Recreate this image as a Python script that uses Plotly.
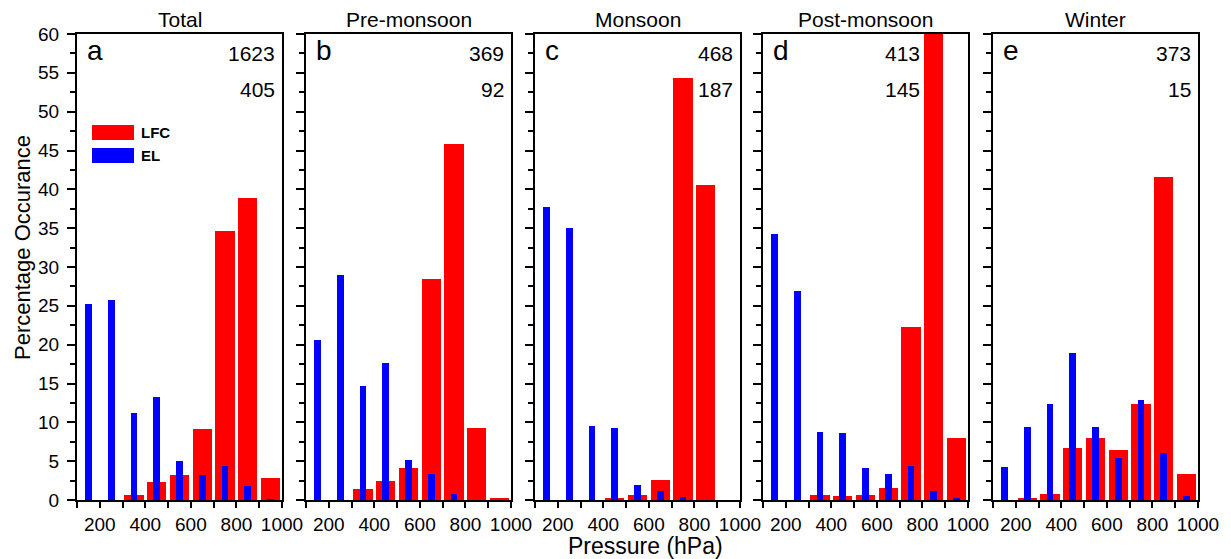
import plotly.graph_objects as go

# Data
pressure_bins = [150, 250, 350, 450, 550, 650, 750, 850, 950]
panel_titles = ["Total", "Pre-monsoon", "Monsoon", "Post-monsoon", "Winter"]
panel_letters = ["a", "b", "c", "d", "e"]
count_top = ["1623", "369", "468", "413", "373"]
count_bottom = ["405", "92", "187", "145", "15"]

lfc_total = [0, 0, 0.7, 2.3, 3.2, 9.1, 34.6, 38.9, 2.8]
el_total = [25.3, 25.8, 11.2, 13.2, 5.0, 3.2, 4.4, 1.8, 0.1]
lfc_pre = [0, 0, 1.4, 2.5, 4.1, 28.5, 45.9, 9.3, 0.3]
el_pre = [20.6, 29.0, 14.7, 17.6, 5.2, 3.3, 0.8, 0, 0]
lfc_mon = [0, 0, 0, 0.3, 0.7, 2.6, 54.3, 40.6, 0]
el_mon = [37.7, 35.0, 9.5, 9.3, 1.9, 1.2, 0.4, 0, 0]
lfc_post = [0, 0, 0.7, 0.5, 0.7, 1.5, 22.3, 63.0, 8.0]
el_post = [34.2, 26.9, 8.8, 8.6, 4.1, 3.4, 4.4, 1.2, 0.2]
lfc_win = [0, 0.3, 0.8, 6.7, 8.0, 6.5, 12.4, 41.6, 3.3]
el_win = [4.3, 9.4, 12.4, 18.9, 9.4, 5.4, 12.9, 6.1, 0.5]

lfc_all = [lfc_total, lfc_pre, lfc_mon, lfc_post, lfc_win]
el_all = [el_total, el_pre, el_mon, el_post, el_win]

# page body has an 8px margin; figure fills the rest of the window
OFF = 8
W, H = 1223, 551


def px(sx):
    return (sx - OFF) / W


def py(sy):
    return 1 - (sy - OFF) / H


lefts = [77, 306, 535, 763, 993]
pw = 205
ybot, ytop = 500, 34

fig = go.Figure()
FONT = "Liberation Sans, Arial, sans-serif"

for i in range(5):
    xa = "x" if i == 0 else f"x{i+1}"
    ya = "y" if i == 0 else f"y{i+1}"
    fig.add_trace(go.Bar(x=pressure_bins, y=lfc_all[i], width=84,
                         marker=dict(color="#ff0000", line=dict(width=0)),
                         xaxis=xa, yaxis=ya, showlegend=False, name="LFC"))
    fig.add_trace(go.Bar(x=pressure_bins, y=el_all[i], width=30,
                         marker=dict(color="#0000ff", line=dict(width=0)),
                         xaxis=xa, yaxis=ya, showlegend=False, name="EL"))
    xkey = "xaxis" if i == 0 else f"xaxis{i+1}"
    ykey = "yaxis" if i == 0 else f"yaxis{i+1}"
    fig.layout[xkey] = dict(
        domain=[px(lefts[i]), px(lefts[i] + pw)], anchor=ya,
        range=[100, 1000], tickvals=[200, 400, 600, 800, 1000],
        ticks="outside", ticklen=6, tickwidth=1.5, tickcolor="black",
        minor=dict(tickvals=[100, 300, 500, 700, 900], ticks="outside", ticklen=6,
                   tickwidth=1.5, tickcolor="black"),
        showline=True, linecolor="black", linewidth=2, mirror=True,
        showgrid=False, zeroline=False, automargin=False,
        tickfont=dict(size=19, color="black", family=FONT),
    )
    fig.layout[ykey] = dict(
        domain=[py(ybot), py(ytop)], anchor=xa, range=[0, 60], dtick=5,
        ticks="outside", ticklen=8, tickwidth=1.5, tickcolor="black",
        minor=dict(dtick=2.5, ticks="outside", ticklen=5, tickwidth=1.5, tickcolor="black"),
        showline=True, linecolor="black", linewidth=2, mirror=True,
        showgrid=False, zeroline=False, showticklabels=(i == 0), automargin=False,
        ticklabelstandoff=4,
        tickfont=dict(size=19, color="black", family=FONT),
    )
    cx = lefts[i] + pw / 2
    fig.add_annotation(text=panel_titles[i], xref="paper", yref="paper",
                       x=px(cx), y=py(19.5), xanchor="center", yanchor="middle", showarrow=False,
                       font=dict(size=21, color="black", family=FONT))
    fig.add_annotation(text=panel_letters[i], xref="paper", yref="paper",
                       x=px(lefts[i] + 8), y=py(51), xanchor="left", yanchor="middle", showarrow=False,
                       font=dict(size=28, color="black", family=FONT))
    rx = 922 if i == 3 else lefts[i] + pw - 5
    fig.add_annotation(text=count_top[i], xref="paper", yref="paper",
                       x=px(rx), y=py(53.5), xanchor="right", yanchor="middle", showarrow=False,
                       font=dict(size=21, color="black", family=FONT))
    fig.add_annotation(text=count_bottom[i], xref="paper", yref="paper",
                       x=px(rx), y=py(89.5), xanchor="right", yanchor="middle", showarrow=False,
                       font=dict(size=21, color="black", family=FONT))

# legend in panel a
legend_items = [("LFC", "#ff0000", 125, 140), ("EL", "#0000ff", 148, 163)]
for lab, col, t, b in legend_items:
    fig.add_shape(type="rect", xref="paper", yref="paper",
                  x0=px(92), x1=px(134), y0=py(b), y1=py(t), fillcolor=col, line=dict(width=0))
    fig.add_annotation(text=f"<b>{lab}</b>", xref="paper", yref="paper",
                       x=px(139), y=py((t + b) / 2), xanchor="left", yanchor="middle", showarrow=False,
                       font=dict(size=15, color="black", family=FONT))

fig.add_annotation(text="Percentage Occurance", xref="paper", yref="paper",
                   x=px(22), y=py(248), xanchor="center", yanchor="middle", textangle=-90, showarrow=False,
                   font=dict(size=22, color="black", family=FONT))
fig.add_annotation(text="Pressure (hPa)", xref="paper", yref="paper",
                   x=px(645), y=py(546), xanchor="center", yanchor="middle", showarrow=False,
                   font=dict(size=23, color="black", family=FONT))

fig.update_layout(width=W, height=H, margin=dict(l=0, r=0, t=0, b=0, autoexpand=False),
                  barmode="overlay", plot_bgcolor="white", paper_bgcolor="white",
                  bargap=0)
fig.write_html("out.html")
